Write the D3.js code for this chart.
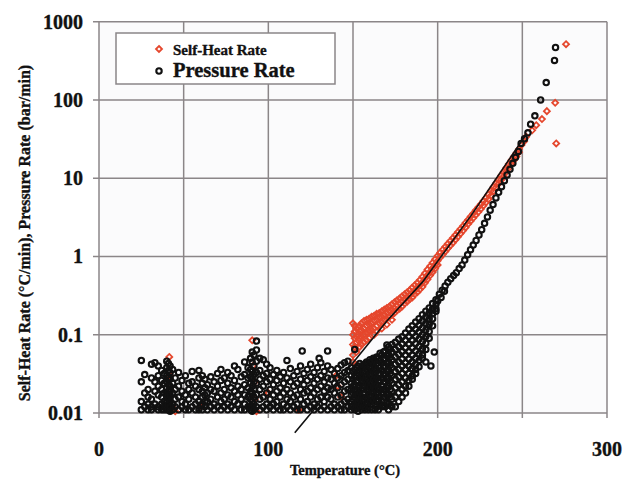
<!DOCTYPE html>
<html><head><meta charset="utf-8">
<script src="https://cdn.jsdelivr.net/npm/d3@7"></script>
<style>body{margin:0;background:#fff}svg{display:block}text{font-family:"Liberation Serif","Times New Roman",serif;font-weight:bold;fill:#111;stroke:#111;stroke-width:0.35px}</style>
</head><body>
<script>
const xTicks=[0,100,200,300];
const xGrid=[0,50,100,150,200,250,300];
const yTicks=[0.01,0.1,1,10,100,1000];
const yTickLabels=["0.01","0.1","1","10","100","1000"];
const seriesNames=["Self-Heat Rate","Pressure Rate"];

// Pressure rate: low-temperature noise, columns [T, values...]
const pressureCloud=[
[25,.047,.025,.014,.011],[27,.018,.012,.031],[29,.02,.013,.011,.016],[31,.042,.028,.015,.012,.011],
[33,.044,.025,.019,.013],[35,.04,.022,.017,.012,.011,.03],[37,.035,.026,.02,.016,.013,.011],
[38.5,.032,.024,.018,.014,.012,.011],[40,.046,.038,.03,.025,.021,.018,.016,.014,.012,.011],
[41,.043,.035,.028,.023,.019,.017,.015,.013,.011],[42,.04,.033,.027,.022,.02,.017,.014,.012,.0105],
[43.5,.036,.024,.018,.013,.011],[45,.028,.02,.015,.012],[47,.033,.022,.016,.011],[49,.026,.019,.014,.012],
[51,.03,.017,.013,.011],[53,.024,.02,.015,.011],[55,.034,.025,.018,.012],[57,.022,.016,.013,.011],
[59,.035,.028,.02,.014,.011],[61,.03,.024,.019,.016,.013,.011],[62.5,.027,.021,.017,.014,.012],
[64,.023,.018,.014,.011],[66,.029,.02,.015,.012],[68,.025,.019,.013,.011],[70,.032,.022,.016,.012],
[72,.036,.026,.018,.014,.011],[74,.028,.02,.015,.012],[76,.033,.024,.017,.013,.011],[78,.03,.021,.016,.012],
[80,.04,.026,.019,.014,.011],[82,.036,.022,.017,.013],[84,.029,.02,.015,.011],[86,.045,.031,.023,.017,.013,.011],
[88,.038,.028,.021,.016,.012],[89.5,.05,.036,.029,.024,.019,.015,.012,.011],
[90.5,.06,.045,.034,.027,.022,.018,.014,.012,.0105],[91.5,.055,.04,.031,.025,.02,.016,.013,.011],
[93,.083,.064,.046,.033,.024,.017,.012],[95,.05,.035,.027,.02,.015,.011],[97,.048,.03,.022,.016,.012],
[99,.042,.032,.025,.018,.013,.011],[101,.038,.027,.02,.015,.012],[103,.031,.023,.017,.013,.011],
[105,.035,.026,.019,.014,.012],[107,.029,.021,.016,.011],[109,.033,.024,.018,.013,.011],
[111,.047,.028,.02,.015,.012],[113,.037,.025,.018,.014,.011],[115,.03,.022,.016,.012],
[117,.034,.024,.017,.013,.011],[119,.04,.027,.02,.015,.011],[120,.062],[121,.032,.023,.018,.013],
[123,.036,.026,.019,.014,.011],[125,.042,.029,.021,.016,.012],[127,.033,.024,.018,.013,.011],
[129,.038,.027,.02,.015,.012],[130,.05],[131,.044,.03,.022,.016,.011],[133,.034,.025,.019,.014,.012],
[135,.062,.04,.028,.021,.016,.011],[137,.036,.027,.02,.015,.012],[139,.032,.024,.018,.013,.011],
[141,.037,.028,.021,.016,.012],[143,.041,.03,.023,.017,.013,.011],[145,.044,.033,.025,.019,.014,.011],
[147,.046,.035,.027,.02,.015,.012],
[149,.038,.03,.024,.02,.017,.014,.012,.011],[150,.034,.027,.022,.018,.015,.0125],
[151,.065,.036,.029,.023,.019,.016,.013,.011],[152,.038,.03,.025,.02,.017,.014,.012],
[153,.04,.032,.026,.021,.017,.014,.012,.0105],[154,.043,.035,.028,.022,.018,.015,.0125],
[155,.039,.031,.025,.02,.016,.013,.011],[156,.041,.033,.026,.021,.0175,.0145,.012],
[157,.042,.034,.027,.022,.018,.015,.012,.011],[158,.045,.036,.029,.024,.02,.016,.0135],
[159,.044,.035,.028,.023,.019,.015,.013,.011],[160,.048,.039,.031,.025,.021,.017,.014],
[161,.046,.037,.03,.024,.019,.016,.013,.011],[162,.05,.041,.033,.027,.022,.018,.0145],
[163,.047,.038,.031,.025,.02,.016,.013,.011],[164,.052,.043,.035,.028,.023,.0185,.015,.012],
[165,.05,.04,.032,.026,.021,.017,.014,.011],[166,.058,.047,.038,.031,.025,.02,.016,.013],
[167,.055,.044,.035,.028,.022,.018,.014,.012],[168,.06,.048,.039,.031,.025,.02,.016,.0125],
[169,.062,.05,.04,.032,.025,.02,.016,.012],[170,.074,.054,.043,.034,.027,.021,.017,.0135],
[171,.07,.056,.045,.036,.028,.022,.017,.013,.011],[172,.066,.052,.041,.032,.026,.02,.016,.0125],
[173,.075,.06,.048,.038,.03,.024,.019,.015,.012],[175,.08,.065,.052,.042,.034,.027,.021,.016,.012],
[177,.088,.07,.056,.045,.036,.029,.023,.018,.014],[179,.094,.076,.061,.049,.04,.032,.025,.02,.016],
[181,.105,.085,.068,.055,.044,.036,.028,.022,.018],[183,.118,.095,.076,.061,.049,.04,.032,.026,.022],
[185,.13,.105,.085,.068,.055,.045,.037,.03,.027],[187,.145,.118,.095,.077,.062,.05,.042,.036,.032],
[189,.16,.132,.108,.088,.071,.057,.047,.039],[191,.18,.15,.122,.1,.082,.066,.055,.05],
[193,.2,.168,.14,.115,.095,.078,.065,.045],[195,.22,.19,.16,.135,.11,.09],[196,.04],
[197,.25,.215,.185,.16,.13],[198,.06],[199,.28,.245,.215,.2],[200,.27],[202,.3],[204,.36]
];
// Pressure rate: runaway branch [T, value]
const pressureRunaway=[
[201,.33],[202.7,.37],[204.4,.42],[206,.47],[207.7,.52],[209.4,.57],[211,.62],[212.7,.7],[214.4,.78],
[216,.9],[217.7,1.05],[219.4,1.22],[221,1.4],[222.7,1.6],[224.4,1.88],[226,2.2],[227.7,2.65],[229.4,3.2],
[231,3.9],[232.7,4.6],[234.4,5.6],[236,6.6],[237.7,7.8],[239.4,9.3],[241,11],[242.7,13],[244.4,15.5],
[246,18.5],[247.7,22],[249.3,27.8],[251.3,32],[253.3,38],[254.9,49],[257.4,62.7],[260.8,100],
[264.1,167],[269,320],[269.6,468]
];
// Self-heat rate: columns [T, values...]
const selfHeat=[
[41.5,.052],[42,.03,.02],[43,.012],[45,.0105],[90.5,.085],[91,.04],[92,.025,.015],[93,.0105],
[60,.012],[100,.018],[118,.011],[140,.03],[141,.022],[143,.016],
[150,.14,.1,.075,.055,.045],[151,.13,.11,.09,.07],[152,.12,.095,.08,.06],[153,.125,.1,.085],
[154,.13,.11,.09,.07],[155,.14,.115,.095,.075],[156.5,.15,.12,.1,.08],[158,.155,.13,.105,.085],
[159.5,.16,.135,.11,.09],[161,.17,.14,.115],[162.5,.175,.15,.12,.1],[164,.185,.155,.13,.11],
[165.5,.19,.165,.14],[167,.2,.17,.145,.12],[168.5,.21,.18,.155],[170,.22,.19,.16,.135],
[171.5,.23,.2,.17],[173,.245,.21,.18,.155],[174.5,.26,.22,.19],[176,.275,.235,.205],
[177.5,.29,.25,.215],[179,.31,.265,.23],[180.5,.33,.285,.25],[182,.35,.3,.265],[183.5,.37,.32,.285],
[185,.4,.345,.3],[186.5,.43,.37,.33],[188,.46,.4,.35],[189.5,.5,.43,.38],[191,.55,.47,.41],
[192.5,.61,.52,.46],[194,.68,.58,.51],[195.5,.75,.64,.57],[197,.83,.71,.63],[198.5,.92,.79,.7],
[200,1.02,.88,.78],[201.5,1.12,.97],[203,1.22,1.06],[204.5,1.33,1.16],[206,1.45,1.27],[207.5,1.58,1.38],
[209,1.72,1.5],[210.5,1.88,1.64],[212,2.05,1.79],[213.5,2.25,1.96],[215,2.45,2.14],[216.5,2.7,2.35],
[218,2.95,2.6],[219.5,3.25,2.85],[221,3.55,3.1],[222.5,3.9,3.4],[224,4.25,3.7],[225.5,4.65,4.05],
[227,5.1,4.45],[228.5,5.6,4.9],[230,6.2,5.4],[231.5,6.9,6],[233,7.7,6.8],[234.5,8.6,7.6],[236,9.6,8.5],
[237.5,10.8,9.5],[239,12,10.6],[240.5,13.5,12],[242,15.2,13.5],[243.5,17,15.2],[245,19,17],[246.5,21,19],
[248,23.5,21.5],[249.5,26.5],[251,29.5],[252.3,34],[255.8,41],[258.2,47.6],[261.6,57],[264.5,72],
[269.4,92],[270,27.8],[275.8,516]
];
// fitted trend line [T, value]
const trendLine=[[115.6,.0056],[150,.044],[170,.15],[191,.47],[220,3.4],[252.5,37]];

const W=624,H=480;
const svg=d3.select("body").append("svg").attr("width",W).attr("height",H);
const x=d3.scaleLinear().domain([0,300]).range([99,607]);
const y=d3.scaleLog().domain([0.01,1000]).range([413,21.7]);
const gridC="#8b8688";

svg.append("rect").attr("x",x(0)).attr("y",y(1000)).attr("width",x(300)-x(0)).attr("height",y(0.01)-y(1000)).attr("fill","#fbfbfc");

// gridlines
svg.append("g").selectAll("line").data(xGrid).join("line")
 .attr("x1",d=>x(d)).attr("x2",d=>x(d)).attr("y1",y(1000)).attr("y2",y(0.01)+5)
 .attr("stroke",gridC).attr("stroke-width",1.5);
svg.append("g").selectAll("line").data(yTicks).join("line")
 .attr("x1",x(0)-6).attr("x2",x(300)).attr("y1",d=>y(d)).attr("y2",d=>y(d))
 .attr("stroke",gridC).attr("stroke-width",1.5);

// tick labels
svg.append("g").selectAll("text").data(yTicks).join("text")
 .attr("x",x(0)-16).attr("y",d=>y(d)).attr("dy","0.35em").attr("text-anchor","end")
 .attr("font-size",20).text((d,i)=>yTickLabels[i]);
svg.append("g").selectAll("text").data(xTicks).join("text")
 .attr("x",d=>x(d)).attr("y",456).attr("text-anchor","middle")
 .attr("font-size",20).text(d=>d);

svg.append("text").attr("x",345).attr("y",475).attr("text-anchor","middle").attr("font-size",14.5).text("Temperature (\u00B0C)");
svg.append("text").attr("transform","translate(30,233) rotate(-90)").attr("text-anchor","middle").attr("font-size",16)
 .text("Self-Heat Rate (\u00B0C/min), Pressure Rate (bar/min)");

const flat=cols=>cols.flatMap(c=>c.slice(1).map(v=>[c[0],v]));
const diamond=r=>`M0,${-r}L${r},0L0,${r}L${-r},0Z`;
const redC="#e5472d";

svg.append("g").selectAll("path").data(flat(selfHeat)).join("path")
 .attr("transform",d=>`translate(${x(d[0])},${y(d[1])})`).attr("d",diamond(3))
 .attr("fill","none").attr("stroke",redC).attr("stroke-width",1.8);

svg.append("g").selectAll("circle").data(flat(pressureCloud).concat(pressureRunaway)).join("circle")
 .attr("cx",d=>x(d[0])).attr("cy",d=>y(d[1])).attr("r",2.7)
 .attr("fill","none").attr("stroke","#111").attr("stroke-width",2.1);

svg.append("path").datum(trendLine).attr("d",d3.line().x(d=>x(d[0])).y(d=>y(d[1])))
 .attr("fill","none").attr("stroke","#111").attr("stroke-width",1.6);

// legend
const lg=svg.append("g");
lg.append("rect").attr("x",116).attr("y",33).attr("width",219).attr("height",51).attr("fill","#fff").attr("stroke",gridC).attr("stroke-width",1.5);
lg.append("path").attr("transform","translate(159,49)").attr("d",diamond(3)).attr("fill","none").attr("stroke",redC).attr("stroke-width",1.8);
lg.append("circle").attr("cx",159).attr("cy",71).attr("r",2.7).attr("fill","none").attr("stroke","#111").attr("stroke-width",2.1);
lg.append("text").attr("x",173).attr("y",55).attr("font-size",15).text(seriesNames[0]);
lg.append("text").attr("x",173).attr("y",77).attr("font-size",20.5).text(seriesNames[1]);
</script>
</body></html>
